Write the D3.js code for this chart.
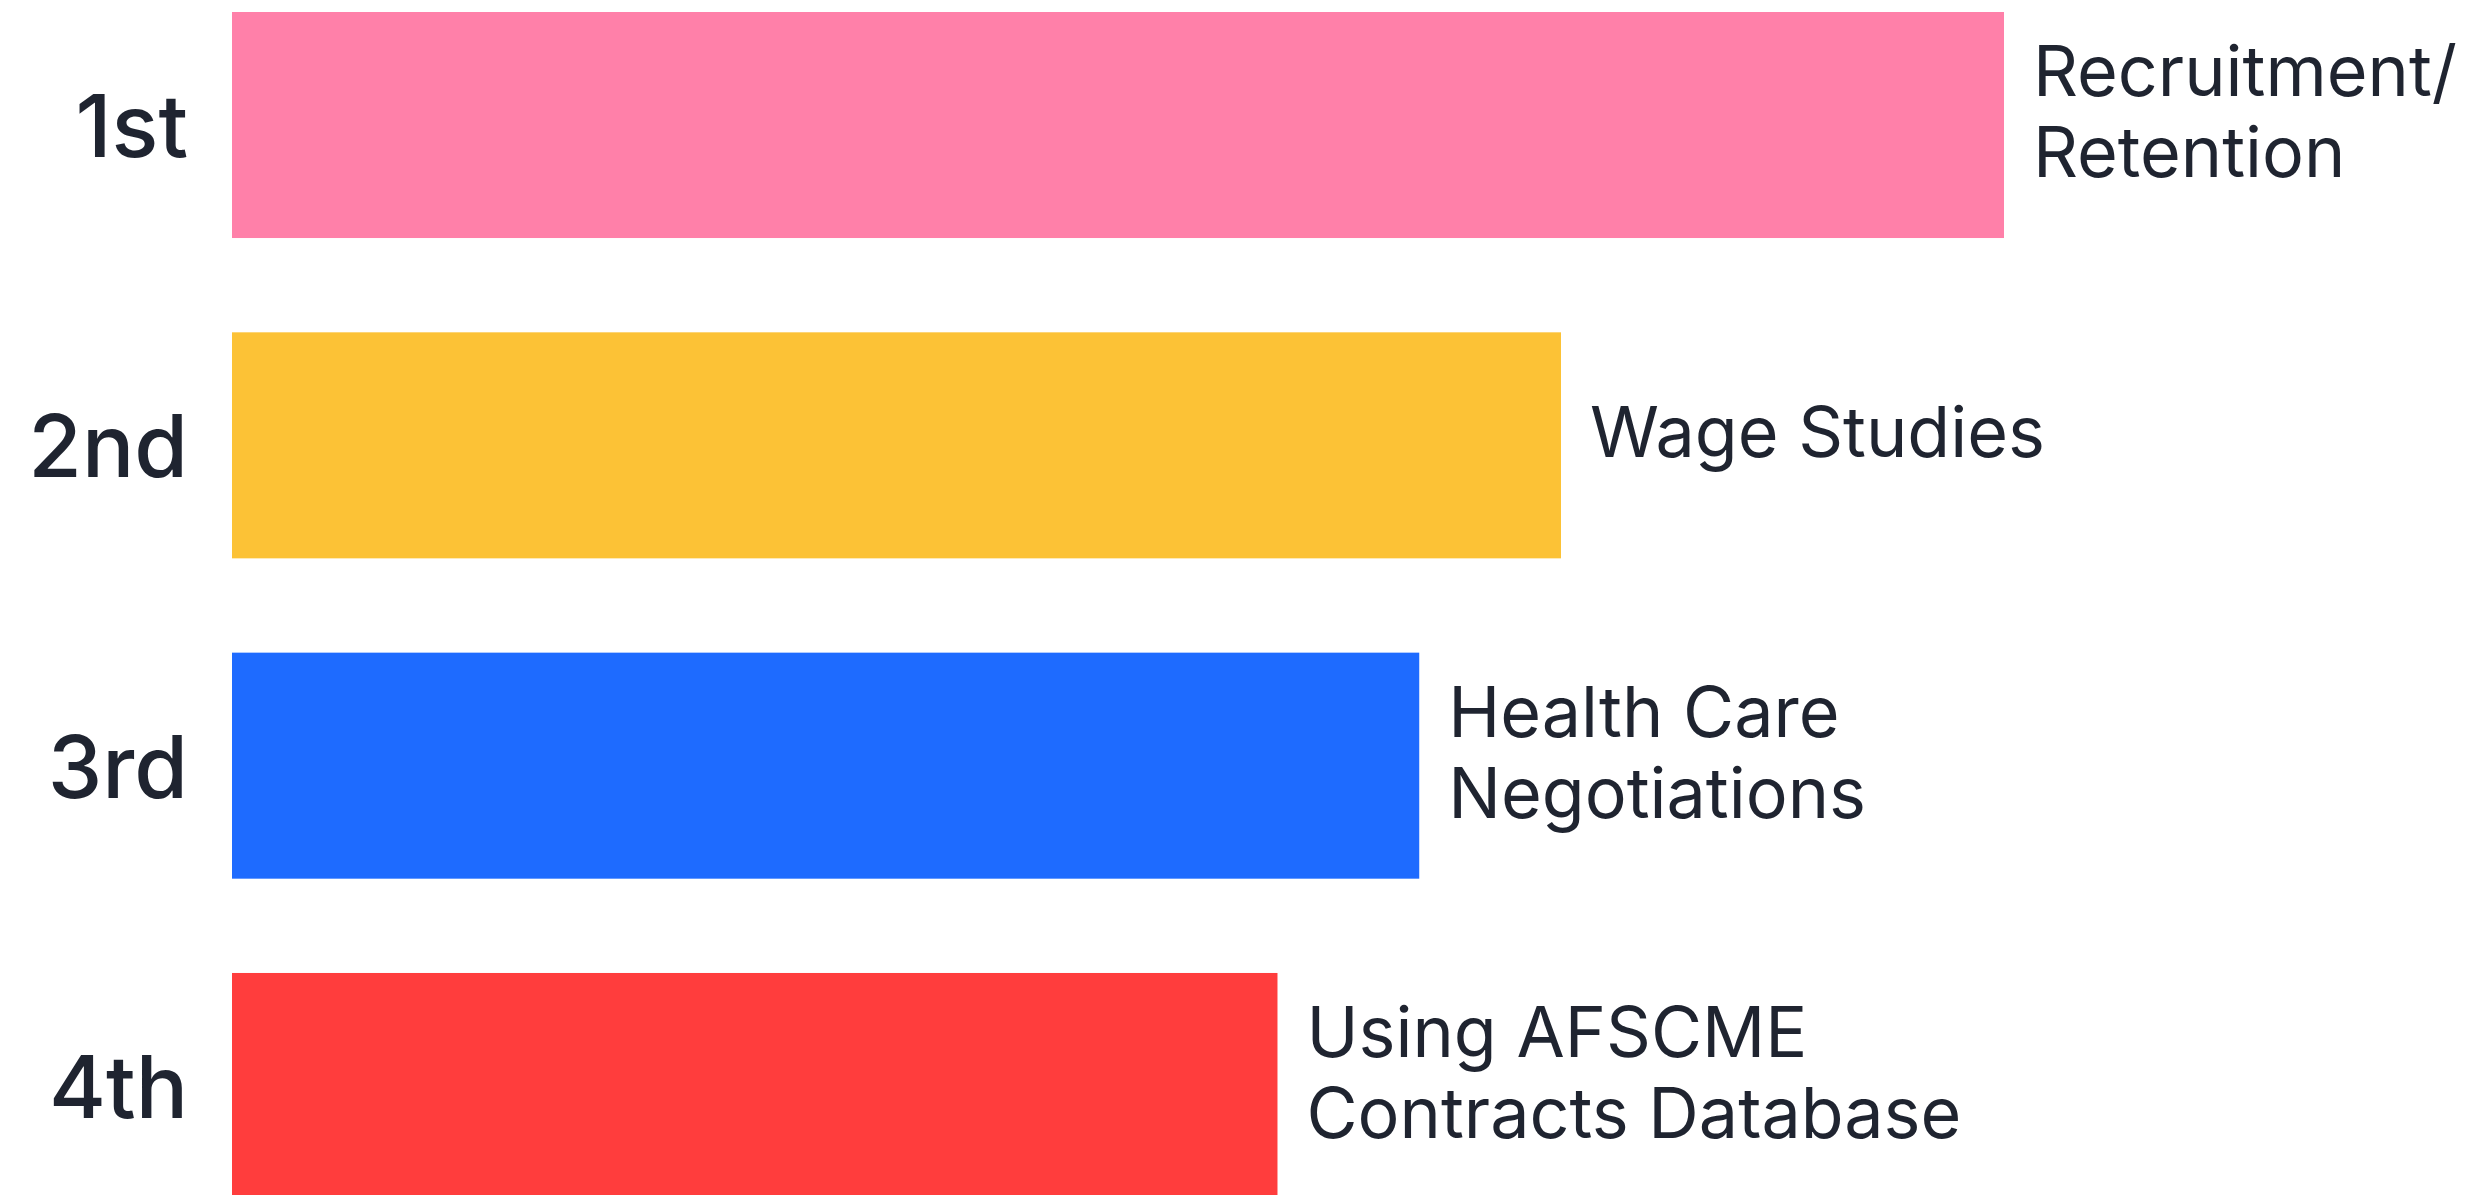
<!DOCTYPE html>
<html>
<head>
<meta charset="utf-8">
<script src="https://cdn.jsdelivr.net/npm/d3@7"></script>
<style>
  html, body { margin: 0; padding: 0; background: #ffffff; }
  svg { display: block; }
</style>
</head>
<body>
<svg id="chart" width="2473" height="1195"></svg>
<script>
// ---- data ----
const ranks = ["1st", "2nd", "3rd", "4th"];
const categories = [
  ["Recruitment/", "Retention"],
  ["Wage Studies"],
  ["Health Care", "Negotiations"],
  ["Using AFSCME", "Contracts Database"]
];
const values = [100, 75, 67, 59];
const colors = ["#FF80A9", "#FCC236", "#1E6BFF", "#FF3D3D"];

const data = ranks.map((r, i) => ({ rank: r, lines: categories[i], value: values[i], color: colors[i] }));

const svg = d3.select("#chart");
const x0 = 232;
const x = d3.scaleLinear().domain([0, 100]).range([x0, 2004]);
const y = d3.scaleBand().domain(ranks).range([12, 1199]).paddingInner(0.2944).paddingOuter(0);

const textColor = "#1f2430";

svg.selectAll("rect.bar").data(data).enter().append("rect")
  .attr("class", "bar")
  .attr("x", x(0))
  .attr("y", d => y(d.rank))
  .attr("width", d => x(d.value) - x(0))
  .attr("height", y.bandwidth())
  .attr("fill", d => d.color);

// rank labels (y axis)
svg.selectAll("text.rank").data(data).enter().append("text")
  .attr("class", "rank")
  .attr("x", 188)
  .attr("y", d => y(d.rank) + y.bandwidth() / 2 + 32)
  .attr("text-anchor", "end")
  .attr("font-family", "Inter, 'Noto Sans', sans-serif")
  .attr("font-weight", 500)
  .attr("font-size", 87)
  .attr("fill", textColor)
  .text(d => d.rank);

// category labels
const lineH = 81;
const cat = svg.selectAll("text.cat").data(data).enter().append("text")
  .attr("class", "cat")
  .attr("font-family", "Inter, 'Noto Sans', sans-serif")
  .attr("font-weight", 400)
  .attr("font-size", 70)
  .attr("fill", textColor);

cat.each(function(d) {
  const t = d3.select(this);
  const cy = y(d.rank) + y.bandwidth() / 2 + 11.5;
  const n = d.lines.length;
  d.lines.forEach((ln, i) => {
    t.append("tspan")
      .attr("x", x(d.value) + 29)
      .attr("y", cy + (i - (n - 1) / 2) * lineH)
      .text(ln);
  });
});
</script>
</body>
</html>
